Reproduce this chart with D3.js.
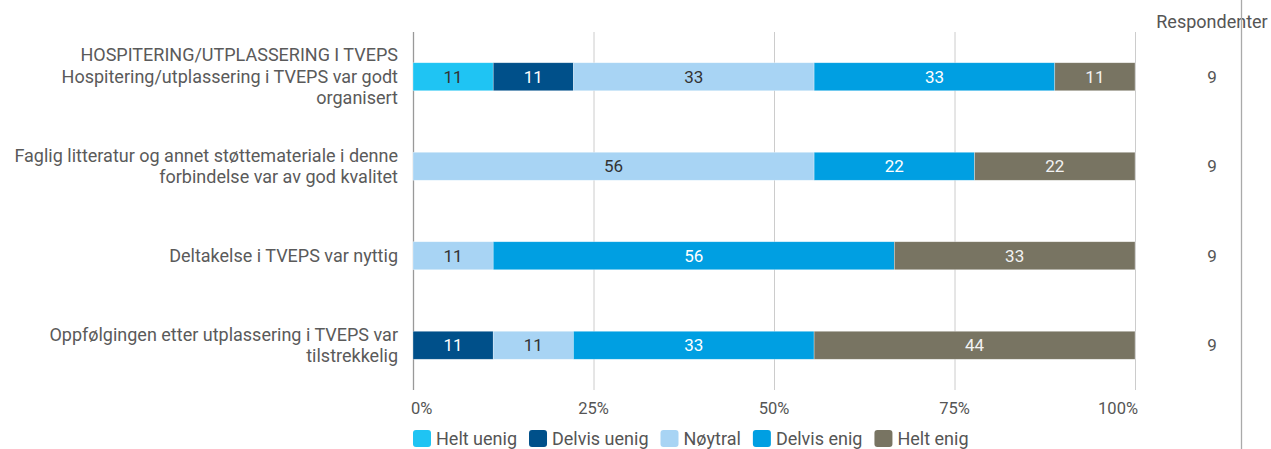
<!DOCTYPE html>
<html>
<head>
<meta charset="utf-8">
<script src="https://cdn.jsdelivr.net/npm/d3@7"></script>
<style>
  html, body { margin: 0; padding: 0; background: #fff; overflow: hidden; }
  svg { display: block; font-family: Roboto, "Noto Sans", sans-serif; }
</style>
</head>
<body>
<div id="chart"></div>
<script>
// Questions (label lines), answer categories and responses (counts of 9 respondents)
const questions = [
  ['HOSPITERING/UTPLASSERING I TVEPS', 'Hospitering/utplassering i TVEPS var godt', 'organisert'],
  ['Faglig litteratur og annet støttemateriale i denne', 'forbindelse var av god kvalitet'],
  ['Deltakelse i TVEPS var nyttig'],
  ['Oppfølgingen etter utplassering i TVEPS var', 'tilstrekkelig']
];
const categories = ['Helt uenig', 'Delvis uenig', 'Nøytral', 'Delvis enig', 'Helt enig'];
const colors = ['#1fc4f3', '#00508a', '#a8d4f4', '#009fe2', '#787462'];
const textColors = ['#333', '#fff', '#333', '#fff', '#f2f2f2'];
const counts = [
  [1, 1, 3, 3, 1],
  [0, 0, 5, 2, 2],
  [0, 0, 1, 5, 3],
  [0, 1, 1, 3, 4]
];
const respondents = [9, 9, 9, 9];
const ticks = [0, 0.25, 0.5, 0.75, 1];

const width = 1271, height = 449;
const margin = { left: 413, right: 136, top: 32, bottom: 60 };

const svg = d3.select('#chart').append('svg')
  .attr('width', width)
  .attr('height', height);

const x = d3.scaleLinear()
  .domain([0, 1])
  .range([margin.left, width - margin.right]);

const y = d3.scaleBand()
  .domain(d3.range(questions.length))
  .range([margin.top, height - margin.bottom + 1])
  .paddingInner(0.687)
  .paddingOuter(0.3435);

// Gridlines
svg.append('g')
  .selectAll('line')
  .data(ticks.slice(1))
  .join('line')
  .attr('x1', d => x(d) + 0.5)
  .attr('x2', d => x(d) + 0.5)
  .attr('y1', margin.top)
  .attr('y2', height - margin.bottom + 1)
  .attr('stroke', '#cccccc')
  .attr('stroke-width', 1);

// Left axis line
svg.append('line')
  .attr('x1', x(0) + 0.5)
  .attr('x2', x(0) + 0.5)
  .attr('y1', margin.top)
  .attr('y2', height - margin.bottom + 1)
  .attr('stroke', '#999')
  .attr('stroke-width', 1.3);

// Stack the shares
const rows = counts.map((row, i) => {
  const total = d3.sum(row);
  let acc = 0;
  return row.map((c, k) => {
    const seg = { row: i, cat: k, v0: acc / total, v1: (acc + c) / total, pct: Math.round(100 * c / total) };
    acc += c;
    return seg;
  }).filter(s => s.v1 > s.v0);
});
const segs = rows.flat();

svg.append('g')
  .selectAll('rect')
  .data(segs)
  .join('rect')
  .attr('x', d => x(d.v0))
  .attr('y', d => y(d.row))
  .attr('width', d => x(d.v1) - x(d.v0))
  .attr('height', y.bandwidth())
  .attr('fill', d => colors[d.cat])
  .attr('stroke', 'rgba(255,255,255,0.5)')
  .attr('stroke-width', 0.6);

svg.append('g')
  .selectAll('text')
  .data(segs)
  .join('text')
  .attr('x', d => (x(d.v0) + x(d.v1)) / 2)
  .attr('y', d => y(d.row) + y.bandwidth() / 2 + 6)
  .attr('text-anchor', 'middle')
  .attr('font-size', 17)
  .attr('fill', d => textColors[d.cat])
  .text(d => d.pct);

// Question labels
const lineH = 21.5;
const qg = svg.append('g')
  .selectAll('text')
  .data(questions)
  .join('text')
  .attr('text-anchor', 'end')
  .attr('font-size', 18)
  .attr('fill', '#5a5a5a');
qg.each(function(lines, i) {
  const cy = y(i) + y.bandwidth() / 2;
  const first = cy - (lines.length - 1) * lineH / 2 + 6;
  d3.select(this).selectAll('tspan')
    .data(lines)
    .join('tspan')
    .attr('x', 398)
    .attr('y', (d, j) => first + j * lineH)
    .text(d => d);
});

// Tick labels
svg.append('g')
  .selectAll('text')
  .data(ticks)
  .join('text')
  .attr('x', (d, i) => i === 0 ? x(d) - 2 : i === ticks.length - 1 ? x(d) + 3 : x(d))
  .attr('y', 414)
  .attr('text-anchor', (d, i) => i === 0 ? 'start' : i === ticks.length - 1 ? 'end' : 'middle')
  .attr('font-size', 16.5)
  .attr('fill', '#555')
  .text(d3.format('.0%'));

// Respondenter column
const rx = 1212;
svg.append('text')
  .attr('x', rx)
  .attr('y', 28)
  .attr('text-anchor', 'middle')
  .attr('font-size', 18)
  .attr('fill', '#555')
  .text('Respondenter');

svg.append('g')
  .selectAll('text')
  .data(respondents)
  .join('text')
  .attr('x', rx)
  .attr('y', (d, i) => y(i) + y.bandwidth() / 2 + 6)
  .attr('text-anchor', 'middle')
  .attr('font-size', 17)
  .attr('fill', '#555')
  .text(d => d);

svg.append('line')
  .attr('x1', 1241.5)
  .attr('x2', 1241.5)
  .attr('y1', 0)
  .attr('y2', height)
  .attr('stroke', '#aaa')
  .attr('stroke-width', 1.3);

// Legend
const legend = svg.append('g');
let lx = 413;
categories.forEach((c, k) => {
  const g = legend.append('g').attr('transform', `translate(${lx},0)`);
  g.append('rect')
    .attr('x', 0)
    .attr('y', 430)
    .attr('width', 18)
    .attr('height', 17)
    .attr('rx', 3)
    .attr('fill', colors[k]);
  const t = g.append('text')
    .attr('x', 23)
    .attr('y', 445)
    .attr('font-size', 18)
    .attr('fill', '#555')
    .text(c);
  lx += 23 + t.node().getComputedTextLength() + 12;
});
</script>
</body>
</html>
